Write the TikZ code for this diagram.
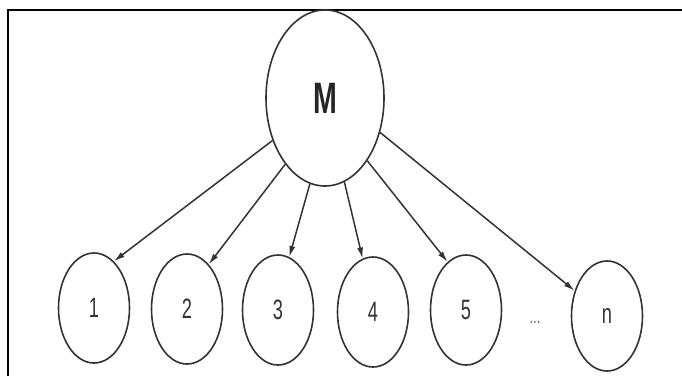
\documentclass[tikz,border=0pt]{standalone}
\usepackage{fontspec}
\setmainfont{Liberation Sans}
\usetikzlibrary{shapes.geometric,arrows.meta}
\tikzset{
  child/.style={ellipse,draw=black!80,line width=1.6pt,minimum width=71pt,minimum height=110pt,inner sep=0pt,font=\fontsize{28}{28}\selectfont,text=black!80},
  root/.style={ellipse,draw=black!80,line width=1.6pt,minimum width=118pt,minimum height=176pt,inner sep=0pt,font=\fontsize{44}{44}\selectfont\bfseries,text=black!85},
  conn/.style={draw=black!80,line width=1.5pt,-{Latex[length=11pt,width=6pt]}},
  frame/.style={line width=2pt,black}
}
\newcommand{\cond}[1]{\scalebox{0.65}[1]{#1}}
\begin{document}
\begin{tikzpicture}[x=1pt,y=-1pt]
\useasboundingbox (0,0) rectangle (682,376);
\fill[white] (0,0) rectangle (682,376);
\coordinate (fa) at (8,376);
\coordinate (fb) at (8,10);
\coordinate (fc) at (682,10);
\draw[frame] (fa) -- (fb) -- (fc);
\node[root] (M) at (325,98) {\cond{M}};
\node[child] (n1) at (94,308) {\cond{1}};
\node[child] (n2) at (187,309) {\cond{2}};
\node[child] (n3) at (278,310) {\cond{3}};
\node[child] (n4) at (373,312) {\cond{4}};
\node[child] (n5) at (466,310) {\cond{5}};
\node[child] (nn) at (607,316) {\cond{n}};
\node[font=\fontsize{20}{20}\selectfont,text=black!60] (dots) at (535,322) {\cond{...}};
\draw[conn] (M.219) -- (n1.67);
\draw[conn] (M.239) -- (n2.64);
\draw[conn] (M.260) -- (n3.78);
\draw[conn] (M.283) -- (n4.101);
\draw[conn] (M.304) -- (n5.111);
\draw[conn] (M.328) -- (nn.142);
\end{tikzpicture}
\end{document}
